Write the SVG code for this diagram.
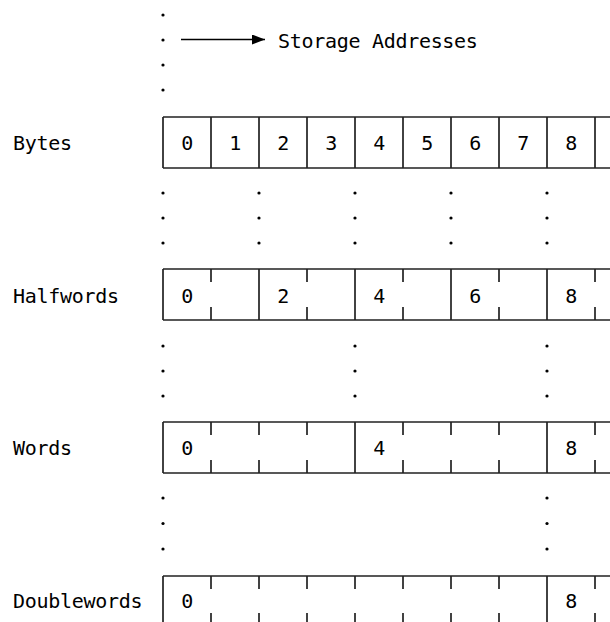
<svg xmlns="http://www.w3.org/2000/svg" width="610" height="622" viewBox="0 0 610 622">
<defs>
<style>
text{font-family:"DejaVu Sans Mono","Liberation Mono",monospace;font-size:20px;letter-spacing:-0.3px;fill:#000}
.d{text-anchor:middle}
.ln{stroke:#222;stroke-width:1.7;fill:none}
.dot{fill:#000}
</style>
<marker id="ah" markerWidth="14" markerHeight="10" refX="13" refY="5" orient="auto" markerUnits="userSpaceOnUse">
<path d="M0,0 L13,5 L0,10 Z" fill="#000"/>
</marker>
</defs>
<rect width="610" height="622" fill="#fff"/>

<g id="header">
<circle class="dot" cx="163" cy="15" r="1.6"/>
<circle class="dot" cx="163" cy="40" r="1.6"/>
<circle class="dot" cx="163" cy="65" r="1.6"/>
<circle class="dot" cx="163" cy="90" r="1.6"/>
<text x="278" y="48">Storage Addresses</text>
</g>

<g id="connectors">
<line x1="181" y1="39.5" x2="265" y2="39.5" stroke="#000" stroke-width="1.5" marker-end="url(#ah)"/>
</g>

<g id="bytes">
<text x="13" y="150">Bytes</text>
<path class="ln" d="M163,117H610M163,168H610M163,117V168M211,117V168M259,117V168M307,117V168M355,117V168M403,117V168M451,117V168M499,117V168M547,117V168M595,117V168"/>
<text class="d" x="187" y="150">0</text>
<text class="d" x="235" y="150">1</text>
<text class="d" x="283" y="150">2</text>
<text class="d" x="331" y="150">3</text>
<text class="d" x="379" y="150">4</text>
<text class="d" x="427" y="150">5</text>
<text class="d" x="475" y="150">6</text>
<text class="d" x="523" y="150">7</text>
<text class="d" x="571" y="150">8</text>
</g>

<g id="dots1">
<circle class="dot" cx="163" cy="193" r="1.6"/><circle class="dot" cx="163" cy="218" r="1.6"/><circle class="dot" cx="163" cy="243" r="1.6"/>
<circle class="dot" cx="259" cy="193" r="1.6"/><circle class="dot" cx="259" cy="218" r="1.6"/><circle class="dot" cx="259" cy="243" r="1.6"/>
<circle class="dot" cx="355" cy="193" r="1.6"/><circle class="dot" cx="355" cy="218" r="1.6"/><circle class="dot" cx="355" cy="243" r="1.6"/>
<circle class="dot" cx="451" cy="193" r="1.6"/><circle class="dot" cx="451" cy="218" r="1.6"/><circle class="dot" cx="451" cy="243" r="1.6"/>
<circle class="dot" cx="547" cy="193" r="1.6"/><circle class="dot" cx="547" cy="218" r="1.6"/><circle class="dot" cx="547" cy="243" r="1.6"/>
</g>

<g id="halfwords">
<text x="13" y="303">Halfwords</text>
<path class="ln" d="M163,269H610M163,320H610M163,269V320M259,269V320M355,269V320M451,269V320M547,269V320M211,269V282M211,307V320M307,269V282M307,307V320M403,269V282M403,307V320M499,269V282M499,307V320M595,269V282M595,307V320"/>
<text class="d" x="187" y="303">0</text>
<text class="d" x="283" y="303">2</text>
<text class="d" x="379" y="303">4</text>
<text class="d" x="475" y="303">6</text>
<text class="d" x="571" y="303">8</text>
</g>

<g id="dots2">
<circle class="dot" cx="163" cy="346" r="1.6"/><circle class="dot" cx="163" cy="371" r="1.6"/><circle class="dot" cx="163" cy="396" r="1.6"/>
<circle class="dot" cx="355" cy="346" r="1.6"/><circle class="dot" cx="355" cy="371" r="1.6"/><circle class="dot" cx="355" cy="396" r="1.6"/>
<circle class="dot" cx="547" cy="346" r="1.6"/><circle class="dot" cx="547" cy="371" r="1.6"/><circle class="dot" cx="547" cy="396" r="1.6"/>
</g>

<g id="words">
<text x="13" y="455">Words</text>
<path class="ln" d="M163,422H610M163,473H610M163,422V473M355,422V473M547,422V473M211,422V435M211,460V473M259,422V435M259,460V473M307,422V435M307,460V473M403,422V435M403,460V473M451,422V435M451,460V473M499,422V435M499,460V473M595,422V435M595,460V473"/>
<text class="d" x="187" y="455">0</text>
<text class="d" x="379" y="455">4</text>
<text class="d" x="571" y="455">8</text>
</g>

<g id="dots3">
<circle class="dot" cx="163" cy="498" r="1.6"/><circle class="dot" cx="163" cy="523.5" r="1.6"/><circle class="dot" cx="163" cy="549" r="1.6"/>
<circle class="dot" cx="547" cy="498" r="1.6"/><circle class="dot" cx="547" cy="523.5" r="1.6"/><circle class="dot" cx="547" cy="549" r="1.6"/>
</g>

<g id="doublewords">
<text x="13" y="608">Doublewords</text>
<path class="ln" d="M163,576H610M163,576V627M547,576V627M211,576V589M211,613V627M259,576V589M259,613V627M307,576V589M307,613V627M355,576V589M355,613V627M403,576V589M403,613V627M451,576V589M451,613V627M499,576V589M499,613V627M595,576V589M595,613V627"/>
<text class="d" x="187" y="608">0</text>
<text class="d" x="571" y="608">8</text>
</g>
</svg>
